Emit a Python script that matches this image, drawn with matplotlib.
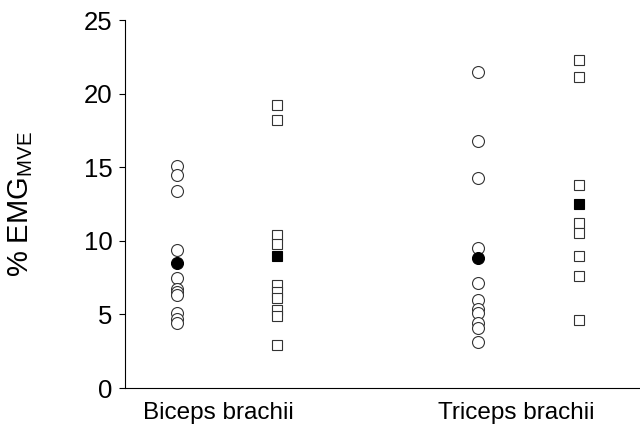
import matplotlib
matplotlib.use("Agg")
import matplotlib.pyplot as plt

plt.rcParams['font.family'] = ['Liberation Sans', 'DejaVu Sans']
plt.rcParams['mathtext.fontset'] = 'custom'
plt.rcParams['mathtext.rm'] = 'Liberation Sans'

muscles = ["Biceps brachii", "Triceps brachii"]
muscle_pos = [1, 4]

biceps_circles = [15.1, 14.5, 13.4, 9.4, 7.5, 6.7, 6.5, 6.3, 5.1, 4.7, 4.4]
biceps_circle_mean = 8.5
biceps_squares = [19.2, 18.2, 10.4, 9.8, 7.0, 6.5, 6.1, 5.3, 4.9, 2.9]
biceps_square_mean = 9.0

triceps_circles = [21.5, 16.8, 14.3, 9.5, 7.1, 6.0, 5.4, 5.1, 4.4, 4.1, 3.1]
triceps_circle_mean = 8.8
triceps_squares = [22.3, 21.1, 13.8, 11.2, 10.5, 9.0, 7.6, 4.6]
triceps_square_mean = 12.5

yticks = [0, 5, 10, 15, 20, 25]

fig = plt.figure(figsize=(6.4, 4.36), dpi=100)
ax = fig.add_axes([125/640, 48/436, 515/640, 368/436])

off = 0.5
ms_c = 8.6
ms_s = 7.8
ec = '#333333'
for pos, circ, cm, sq, sm in [
    (muscle_pos[0], biceps_circles, biceps_circle_mean, biceps_squares, biceps_square_mean),
    (muscle_pos[1], triceps_circles, triceps_circle_mean, triceps_squares, triceps_square_mean),
]:
    ax.plot([pos - off] * len(circ), circ, 'o', ms=ms_c, mfc='white', mec=ec, mew=0.8, ls='none')
    ax.plot([pos - off], [cm], 'o', ms=ms_c, mfc='black', mec='black', mew=0.8, ls='none')
    ax.plot([pos + off] * len(sq), sq, 's', ms=ms_s, mfc='white', mec=ec, mew=0.8, ls='none')
    ax.plot([pos + off], [sm], 's', ms=ms_s, mfc='black', mec='black', mew=0.8, ls='none')

ax.set_xlim(-0.015, 5.11)
ax.set_ylim(0, 25)
ax.set_yticks(yticks)
ax.set_yticklabels([str(v) for v in yticks], fontsize=18.5)
label_shift = [-0.09, -0.12]
ax.set_xticks([p + s for p, s in zip(muscle_pos, label_shift)])
ax.set_xticklabels(muscles, fontsize=17.5)
ax.tick_params(axis='x', length=0, pad=10)
ax.tick_params(axis='y', length=4, width=0.8, pad=5)
for s in ['top', 'right']:
    ax.spines[s].set_visible(False)
for s in ['left', 'bottom']:
    ax.spines[s].set_linewidth(0.8)
ax.set_ylabel(r'% EMG$_{\mathregular{MVE}}$', fontsize=21)
ax.yaxis.set_label_coords(-0.174, 0.5)

fig.savefig('out.png', dpi=100)
